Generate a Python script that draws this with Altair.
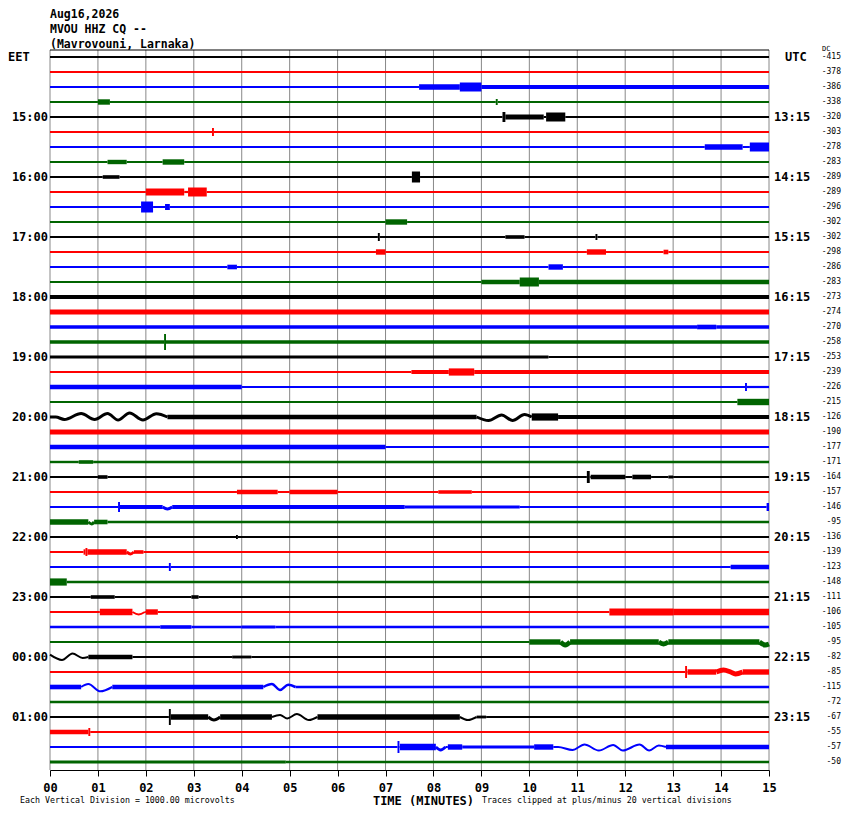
import altair as alt
import numpy as np
import pandas as pd

# ---------------- data ----------------
N_ROWS = 48
minutes = list(range(0, 16))
quarters = [i / 4 for i in range(0, 61)]

trace_colors = ["#000000", "#ff0000", "#0000ff", "#006400"]

eet_rows = [4, 8, 12, 16, 20, 24, 28, 32, 36, 40, 44]
eet_labels = ["15:00", "16:00", "17:00", "18:00", "19:00", "20:00",
              "21:00", "22:00", "23:00", "00:00", "01:00"]
utc_labels = ["13:15", "14:15", "15:15", "16:15", "17:15", "18:15",
              "19:15", "20:15", "21:15", "22:15", "23:15"]

dc_values = [-415, -378, -386, -338, -320, -303, -278, -283, -289, -289, -296, -302,
             -302, -298, -286, -283, -273, -274, -270, -258, -253, -239, -226, -215,
             -126, -190, -177, -171, -164, -157, -146, -95, -136, -139, -123, -148,
             -111, -106, -105, -95, -82, -85, -115, -72, -67, -55, -57, -50]

# background noise half-amplitude of each trace (pixels)
base_amp = [1, 1.1, 1, 1.1, 1, 1.1, 1, 1.1, 1, 1.1, 1, 1.1,
            1, 1, 1, 1.1, 2.1, 2.5, 1.8, 1.7, 1, 1, 1.1, 1,
            1.5, 2.4, 1.1, 1.2, 1, 1, 1, 1.2, 1, 1, 1, 1.2,
            1, 1, 1.2, 1, 1, 1, 1.2, 1.2, 1, 1, 1, 1.2]

# (row, start minute, end minute, half-amplitude px)
events = [
    (2, 7.7, 8.55, 2.7), (2, 8.55, 9.0, 4.5), (2, 9.0, 15, 2.1),
    (3, 1.0, 1.25, 2.7), (3, 9.3, 9.34, 3),
    (4, 9.44, 9.5, 5), (4, 9.5, 10.3, 2.5), (4, 10.35, 10.75, 4.5),
    (5, 3.38, 3.42, 4),
    (6, 13.66, 14.45, 2.7), (6, 14.6, 15, 4.5),
    (7, 1.2, 1.6, 2.2), (7, 2.35, 2.8, 2.7),
    (8, 1.1, 1.45, 1.8), (8, 7.55, 7.72, 5.5),
    (9, 2.0, 2.8, 3.6), (9, 2.88, 3.27, 4.5),
    (10, 1.9, 2.15, 5.5), (10, 2.4, 2.5, 3),
    (11, 7.0, 7.45, 2.7),
    (12, 6.84, 6.88, 4), (12, 9.5, 9.9, 1.8), (12, 11.38, 11.42, 3),
    (13, 6.8, 7.0, 2.7), (13, 11.2, 11.6, 2.7), (13, 12.8, 12.9, 2.3),
    (14, 3.7, 3.9, 2.3), (14, 10.4, 10.7, 2.7),
    (15, 9.0, 9.8, 2.3), (15, 9.8, 10.2, 4.5), (15, 10.2, 15, 2.3),
    (18, 13.5, 13.9, 2.3),
    (19, 2.38, 2.42, 8),
    (20, 0, 10.4, 1.5),
    (21, 7.54, 15, 2.1), (21, 8.32, 8.85, 3.6),
    (22, 0, 4.0, 2.3), (22, 14.5, 14.54, 4),
    (23, 14.34, 15, 3.2),
    (24, 2.45, 8.9, 2.3), (24, 10.05, 10.6, 3.6), (24, 10.6, 15, 2.0),
    (26, 0, 7.0, 2.2),
    (27, 0.6, 0.9, 1.8),
    (28, 1.0, 1.2, 1.8), (28, 11.2, 11.26, 6), (28, 11.28, 12.0, 2.3),
    (28, 12.15, 12.54, 2.3), (28, 12.9, 13.0, 1.5),
    (29, 3.9, 4.75, 2.3), (29, 5.0, 6.0, 2.3), (29, 8.1, 8.8, 1.8),
    (30, 1.42, 1.46, 5), (30, 1.46, 2.35, 2.0), (30, 2.55, 7.4, 2.0),
    (30, 7.4, 9.8, 1.4), (30, 14.95, 15, 4),
    (31, 0, 0.8, 2.7), (31, 0.92, 1.2, 2.3),
    (32, 3.88, 3.92, 2),
    (33, 0.7, 1.6, 2.7), (33, 1.75, 1.95, 1.8), (33, 0.74, 0.78, 4),
    (34, 2.48, 2.52, 4), (34, 14.2, 15, 2.3),
    (35, 0, 0.35, 3.6),
    (36, 0.85, 1.35, 1.8), (36, 2.95, 3.1, 1.8),
    (37, 1.04, 1.72, 3.2), (37, 2.0, 2.25, 2.7), (37, 11.67, 13.0, 3.6), (37, 13.0, 15, 3.2),
    (38, 2.3, 2.95, 1.8), (38, 4.0, 4.7, 1.4),
    (39, 10.0, 15, 2.7),
    (40, 0.8, 1.72, 2.3), (40, 3.8, 4.2, 1.4),
    (41, 13.25, 13.29, 6), (41, 13.3, 15, 2.7),
    (42, 0, 0.65, 2.3), (42, 1.3, 4.45, 2.3),
    (44, 2.48, 2.52, 8), (44, 2.52, 3.3, 2.7), (44, 3.55, 4.63, 2.7),
    (44, 5.58, 8.55, 2.7), (44, 8.9, 9.1, 1.4),
    (45, 0, 0.8, 2.3), (45, 0.8, 0.84, 4),
    (46, 7.25, 7.29, 6), (46, 7.3, 8.05, 3.2), (46, 8.3, 8.6, 2.7),
    (46, 8.6, 10.1, 1.4), (46, 10.1, 10.5, 2.7), (46, 12.85, 15, 2.3),
    (47, 0, 4.92, 1.4),
]

# slow wave shapes: (row, trace width px, [(minute, downward offset px)])
wave_groups = [
    (24, 3, [(0, 0), (0.12, 0), (0.3, 2.5), (0.65, -3.5), (0.93, 2.5), (1.2, -3.5),
             (1.42, 3), (1.66, -4), (1.94, 3), (2.22, -3.3), (2.45, 0)]),
    (24, 3, [(8.9, 0), (9.15, 3.5), (9.42, -2), (9.65, 3.5), (9.9, -2.5), (10.05, 0)]),
    (30, 3, [(2.35, 0), (2.45, 2), (2.55, 0)]),
    (31, 3, [(0.8, 0), (0.87, 2), (0.92, 0)]),
    (33, 3, [(1.6, 0), (1.68, 2), (1.75, 0)]),
    (37, 2, [(1.72, 0), (1.85, 2.5), (1.98, 0)]),
    (39, 5, [(10.65, 0), (10.75, 3), (10.85, 0)]),
    (39, 5, [(12.7, 0), (12.8, 2), (12.9, 0)]),
    (39, 5, [(14.8, 0), (14.92, 3), (15, 2)]),
    (40, 2, [(0, -2.3), (0.25, 3), (0.47, -3.5), (0.68, 1), (0.8, 0)]),
    (41, 5, [(13.9, 0), (14.05, -2), (14.2, 0), (14.3, 2), (14.45, 0)]),
    (42, 2, [(0.65, 0), (0.8, -3), (1.05, 4.3), (1.3, 0)]),
    (42, 2.5, [(4.45, 0), (4.63, -3), (4.8, 3), (4.97, -2.3), (5.12, 0)]),
    (44, 3, [(3.3, 0), (3.42, 3), (3.55, 0)]),
    (44, 2, [(4.63, 0), (4.8, -2), (4.95, 1.5), (5.15, -3), (5.4, 3), (5.58, 0)]),
    (44, 2, [(8.55, 0), (8.72, 3), (8.9, 0)]),
    (46, 3, [(8.05, 0), (8.15, 3), (8.25, 0)]),
    (46, 2, [(10.5, 0), (10.6, 0), (10.9, 3), (11.15, -2.5), (11.45, 3.5), (11.75, -2),
             (11.95, 3.5), (12.3, -2.5), (12.5, 3.5), (12.7, -1.5), (12.85, 0)]),
]

title_lines = ["Aug16,2026", "MVOU HHZ CQ --", "(Mavrovouni, Larnaka)"]
footer_left = "Each Vertical Division = 1000.00 microvolts"
footer_right = "Traces clipped at plus/minus 20 vertical divisions"

ROW_PX = 15.0
ROW_OFF = 7.0 / 15.0

# ---------------- build tables ----------------
seg_recs = []
gid = 0
for r in range(N_ROWS):
    evs = [e for e in events if e[0] == r]
    spans = [(g[2][0][0], g[2][-1][0]) for g in wave_groups if g[0] == r]
    bps = {0.0, 15.0}
    for _, a, b, _ in evs:
        bps.update([a, b])
    for a, b in spans:
        bps.update([a, b])
    bps = sorted(bps)
    for a, b in zip(bps[:-1], bps[1:]):
        if any(s0 <= a and b <= s1 for s0, s1 in spans):
            continue
        amp = base_amp[r]
        for _, t0, t1, am in evs:
            if t0 <= a and b <= t1:
                amp = max(amp, am)
        for k, t in enumerate((a, b)):
            seg_recs.append(dict(g=gid, seq=k, t=float(t), yc=float(r + ROW_OFF),
                                 w=float(2 * amp), color=trace_colors[r % 4]))
        gid += 1
seg_df = pd.DataFrame(seg_recs)

wave_recs = []
for k, (r, w, pts) in enumerate(wave_groups):
    for j, (t, dy) in enumerate(pts):
        wave_recs.append(dict(g=k, seq=j, t=float(t), yc=float(r + ROW_OFF + dy / ROW_PX),
                              w=float(w), color=trace_colors[r % 4]))
wave_df = pd.DataFrame(wave_recs)

xs = alt.Scale(domain=[0, 15], nice=False, zero=False)
ys = alt.Scale(domain=[0, 48], reverse=True, nice=False, zero=False)

MONO = "DejaVu Sans Mono"

xaxis = alt.Axis(
    values=quarters, tickSize=6, tickColor="black", tickWidth=1,
    domainColor="black", domainWidth=1, grid=False,
    labelExpr="datum.value % 1 == 0 ? (datum.value < 10 ? '0' + datum.value : '' + datum.value) : ''",
    labelFont=MONO, labelFontWeight="bold", labelFontSize=12, labelColor="black",
    labelBaseline="middle", labelPadding=11, labelOverlap=False, labelFlush=False,
    title="TIME (MINUTES)", titleFont=MONO, titleFontWeight="bold", titleFontSize=12,
    titleColor="black", titleX=373, titleY=30, titleAlign="center",
    titleBaseline="middle",
)

grid_df = pd.DataFrame({"m": minutes, "y0": [0] * 16, "y1": [48] * 16})
grid = alt.Chart(grid_df).mark_rule(color="#888888", strokeWidth=1).encode(
    x=alt.X("m:Q", scale=xs, axis=xaxis),
    y=alt.Y("y0:Q", scale=ys, axis=None),
    y2="y1:Q",
)

top_df = pd.DataFrame({"x0": [0], "x1": [15], "y0": [0]})
top_line = alt.Chart(top_df).mark_rule(color="black", strokeWidth=1).encode(
    x=alt.X("x0:Q"), x2="x1:Q", y=alt.Y("y0:Q"),
)

segments = alt.Chart(seg_df).mark_line(strokeCap="butt").encode(
    x=alt.X("t:Q"),
    y=alt.Y("yc:Q"),
    size=alt.Size("w:Q", scale=None, legend=None),
    color=alt.Color("color:N", scale=None, legend=None),
    detail="g:N",
    order="seq:Q",
)

wave_lines = alt.Chart(wave_df).mark_line(strokeCap="butt", interpolate="monotone").encode(
    x=alt.X("t:Q"),
    y=alt.Y("yc:Q"),
    size=alt.Size("w:Q", scale=None, legend=None),
    color=alt.Color("color:N", scale=None, legend=None),
    detail="g:N",
    order="seq:Q",
)

lab_df = pd.DataFrame({"yc": [r + ROW_OFF for r in eet_rows],
                       "eet": eet_labels, "utc": utc_labels})
left_lab = alt.Chart(lab_df).mark_text(
    font=MONO, fontWeight="bold", fontSize=12, align="right", baseline="middle", color="black"
).encode(text="eet:N", y=alt.Y("yc:Q"), x=alt.value(-2))
right_lab = alt.Chart(lab_df).mark_text(
    font=MONO, fontWeight="bold", fontSize=12, align="left", baseline="middle", color="black"
).encode(text="utc:N", y=alt.Y("yc:Q"), x=alt.value(724))

dc_df = pd.DataFrame({"yc": [r + ROW_OFF for r in range(N_ROWS)],
                      "dc": [str(v) for v in dc_values]})
dc_lab = alt.Chart(dc_df).mark_text(
    font=MONO, fontSize=8, align="right", baseline="middle", color="black"
).encode(text="dc:N", y=alt.Y("yc:Q"), x=alt.value(791))

hdr_df = pd.DataFrame({"yc": [ROW_OFF], "eet": ["EET"], "utc": ["UTC"], "dc": ["DC"]})
eet_hdr = alt.Chart(hdr_df).mark_text(
    font=MONO, fontWeight="bold", fontSize=12, align="left", baseline="middle", color="black"
).encode(text="eet:N", y=alt.Y("yc:Q"), x=alt.value(-42))
utc_hdr = alt.Chart(hdr_df).mark_text(
    font=MONO, fontWeight="bold", fontSize=12, align="left", baseline="middle", color="black"
).encode(text="utc:N", y=alt.Y("yc:Q"), x=alt.value(735))
dc_hdr = alt.Chart(hdr_df).mark_text(
    font=MONO, fontSize=7, align="left", baseline="middle", color="black"
).encode(text="dc:N", y=alt.value(-1), x=alt.value(772))

title_charts = []
for k, line in enumerate(title_lines):
    title_charts.append(
        alt.Chart(pd.DataFrame({"txt": [line]})).mark_text(
            font=MONO, fontWeight="bold", fontSize=11.5, align="left",
            baseline="middle", color="black"
        ).encode(text="txt:N", x=alt.value(0), y=alt.value(-35 + 15 * k))
    )

foot_charts = []
for txt, fx in [(footer_left, -30), (footer_right, 432)]:
    foot_charts.append(
        alt.Chart(pd.DataFrame({"txt": [txt]})).mark_text(
            font=MONO, fontSize=8.3, align="left", baseline="middle", color="black"
        ).encode(text="txt:N", x=alt.value(fx), y=alt.value(751))
    )

chart = alt.layer(
    grid, top_line, segments, wave_lines, left_lab, right_lab, dc_lab, eet_hdr, utc_hdr,
    dc_hdr, *title_charts, *foot_charts
).properties(
    width=719, height=720,
    padding={"left": 42, "top": 42, "right": 73, "bottom": 36},
    autosize=alt.AutoSizeParams(type="none"),
    background="white",
).configure_view(stroke=None)

chart.save("out.html", embed_options={"renderer": "svg", "actions": False})
